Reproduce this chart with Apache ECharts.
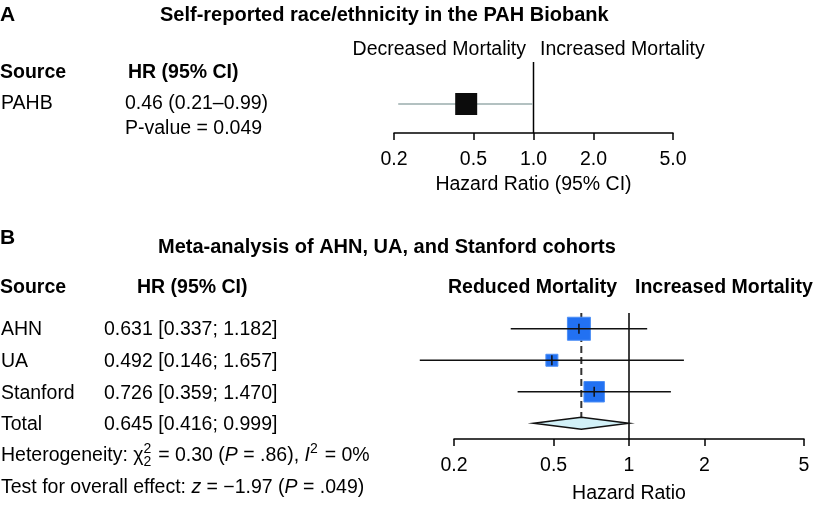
<!DOCTYPE html>
<html><head><meta charset="utf-8">
<script src="https://cdn.jsdelivr.net/npm/echarts@6/dist/echarts.min.js"></script>
<style>html,body{margin:0;padding:0;background:#fff}#c{width:817px;height:505px}</style>
</head><body><div id="c"></div><script>
// ---------- data ----------
const axisTicks = [0.2, 0.5, 1, 2, 5];
const tickLabelsA = ['0.2', '0.5', '1.0', '2.0', '5.0'];
const tickLabelsB = ['0.2', '0.5', '1', '2', '5'];
const nullHR = 1;

const sourceA = ['PAHB'];
const hrA = [0.46];
const loA = [0.21];
const hiA = [0.99];
const ciTextA = ['0.46 (0.21–0.99)'];
const pValueTextA = 'P-value = 0.049';

const sourcesB = ['AHN', 'UA', 'Stanford'];
const hrB = [0.631, 0.492, 0.726];
const loB = [0.337, 0.146, 0.359];
const hiB = [1.182, 1.657, 1.470];
const weightB = [48.6, 12.9, 38.5];
const totalLabelB = 'Total';
const totalHR = [0.645];
const totalLo = [0.416];
const totalHi = [0.999];

// ---------- helpers ----------
const FONT = '"Liberation Sans", Arial, Helvetica, sans-serif';
const FS = 19.5;
const lg = v => Math.log10(v);
const fmt3 = v => v.toFixed(3);
const cv = document.createElement('canvas').getContext('2d');
function measure(t, font) { cv.font = font; return cv.measureText(t).width; }
function fnt(size, weight, style) { return (style || 'normal') + ' ' + (weight || 'normal') + ' ' + size + 'px ' + FONT; }

function txt(text, x, y, opts) {
  opts = opts || {};
  const font = fnt(opts.size || FS, opts.weight, opts.style);
  return {
    type: 'text', x: x, y: y, silent: true,
    style: {
      text: text, font: font, fill: '#000',
      align: opts.align || 'left', verticalAlign: 'middle',
      textAlign: opts.align || 'left', textVerticalAlign: 'middle'
    }
  };
}

// lays out a line of text segments with sup/sub scripts
function richLine(segs, x0, y) {
  const out = [];
  let x = x0;
  segs.forEach(s => {
    if (s.sup || s.sub) {
      let adv = 0;
      if (s.sup) { out.push(txt(s.sup, x, y - 7, { size: 14 })); adv = Math.max(adv, measure(s.sup, fnt(14))); }
      if (s.sub) { out.push(txt(s.sub, x, y + 6, { size: 14 })); adv = Math.max(adv, measure(s.sub, fnt(14))); }
      x += adv + 1.5;
    } else {
      out.push(txt(s.t, x, y, { style: s.it ? 'italic' : 'normal' }));
      x += measure(s.t, fnt(FS, 'normal', s.it ? 'italic' : 'normal'));
    }
  });
  return out;
}

function tickFormatter(labels) {
  return function (v) {
    const i = axisTicks.findIndex(t => Math.abs(lg(t) - v) < 1e-6);
    return i >= 0 ? labels[i] : '';
  };
}

function xAxisDef(gridIndex, labels, name, gap, margin) {
  return {
    gridIndex: gridIndex, type: 'value', min: lg(axisTicks[0]), max: lg(axisTicks[axisTicks.length - 1]),
    axisLine: { show: true, onZero: false, lineStyle: { color: '#000', width: 1.5 } },
    axisTick: { show: true, customValues: axisTicks.map(lg), length: 7, lineStyle: { color: '#000', width: 1.5 } },
    axisLabel: { customValues: axisTicks.map(lg), formatter: tickFormatter(labels), color: '#000', fontSize: FS, fontFamily: FONT, margin: margin },
    splitLine: { show: false },
    name: name, nameLocation: 'middle', nameGap: gap,
    nameTextStyle: { color: '#000', fontSize: FS, fontFamily: FONT }
  };
}

// ---------- chart ----------
const chart = echarts.init(document.getElementById('c'), null, { renderer: 'canvas' });

const dataA = hrA.map((h, i) => [lg(h), i, lg(loA[i]), lg(hiA[i])]);
const dataB = hrB.map((h, i) => [lg(h), i, lg(loB[i]), lg(hiB[i]), weightB[i]]);
const dataTotal = totalHR.map((h, i) => [lg(h), sourcesB.length + i, lg(totalLo[i]), lg(totalHi[i])]);

const graphics = [];
// Panel A texts
graphics.push(txt('A', 0, 15, { weight: 'bold', size: 21 }));
graphics.push(txt('Self-reported race/ethnicity in the PAH Biobank', 160, 15, { weight: 'bold', size: 20 }));
graphics.push(txt('Source', 0, 73, { weight: 'bold' }));
graphics.push(txt('HR (95% CI)', 128, 73, { weight: 'bold' }));
sourceA.forEach((s, i) => {
  graphics.push(txt(s, 1, 104 + i * 25));
  graphics.push(txt(ciTextA[i], 125, 104 + i * 25));
});
graphics.push(txt(pValueTextA, 125, 129));
graphics.push(txt('Decreased Mortality', 526, 50, { align: 'right' }));
graphics.push(txt('Increased Mortality', 540, 50));

// Panel B texts
graphics.push(txt('B', 0, 238, { weight: 'bold', size: 21 }));
graphics.push(txt('Meta-analysis of AHN, UA, and Stanford cohorts', 158, 247, { weight: 'bold', size: 20 }));
graphics.push(txt('Source', 0, 288, { weight: 'bold' }));
graphics.push(txt('HR (95% CI)', 137, 288, { weight: 'bold' }));
sourcesB.forEach((s, i) => {
  const y = 330 + i * 31.7;
  graphics.push(txt(s, 1, y));
  graphics.push(txt(fmt3(hrB[i]) + ' [' + fmt3(loB[i]) + '; ' + fmt3(hiB[i]) + ']', 104, y));
});
graphics.push(txt(totalLabelB, 1, 425));
graphics.push(txt(fmt3(totalHR[0]) + ' [' + fmt3(totalLo[0]) + '; ' + fmt3(totalHi[0]) + ']', 104, 425));
richLine([
  { t: 'Heterogeneity: ' }, { t: 'χ' }, { sup: '2', sub: '2' }, { t: ' = 0.30 (' }, { t: 'P', it: true },
  { t: ' = .86), ' }, { t: 'I', it: true }, { sup: '2' }, { t: ' = 0%' }
], 1, 456).forEach(g => graphics.push(g));
richLine([
  { t: 'Test for overall effect: ' }, { t: 'z', it: true }, { t: ' = −1.97 (' }, { t: 'P', it: true }, { t: ' = .049)' }
], 1, 488).forEach(g => graphics.push(g));
graphics.push(txt('Reduced Mortality', 617, 288, { weight: 'bold' , align: 'right'}));
graphics.push(txt('Increased Mortality', 635, 288, { weight: 'bold' }));

const option = {
  animation: false,
  backgroundColor: '#fff',
  grid: [
    { left: 394, width: 279, top: 62, height: 71 },
    { left: 454, width: 350, top: 313, height: 128 }
  ],
  xAxis: [
    xAxisDef(0, tickLabelsA, 'Hazard Ratio (95% CI)', 42, 17),
    xAxisDef(1, tickLabelsB, 'Hazard Ratio', 45, 17)
  ],
  yAxis: [
    { gridIndex: 0, type: 'value', show: false, inverse: true, min: -1.45, max: 1 },
    { gridIndex: 1, type: 'value', show: false, inverse: true, min: -0.5, max: 3.5 }
  ],
  series: [
    { // Panel A null line
      type: 'custom', xAxisIndex: 0, yAxisIndex: 0, silent: true, z: 1,
      data: [[lg(nullHR), 0]],
      renderItem: (params, api) => {
        const p = api.coord([api.value(0), api.value(1)]);
        const cs = params.coordSys;
        return { type: 'line', shape: { x1: p[0], y1: cs.y, x2: p[0], y2: cs.y + cs.height }, style: { stroke: '#000', lineWidth: 1.5 } };
      }
    },
    { // Panel A estimate
      type: 'custom', xAxisIndex: 0, yAxisIndex: 0, silent: true, z: 2, clip: false,
      data: dataA,
      renderItem: (params, api) => {
        const c = api.coord([api.value(0), api.value(1)]);
        const l = api.coord([api.value(2), api.value(1)]);
        const h = api.coord([api.value(3), api.value(1)]);
        const s = 22;
        return { type: 'group', children: [
          { type: 'line', shape: { x1: l[0], y1: l[1], x2: h[0], y2: h[1] }, style: { stroke: '#9aacac', lineWidth: 1.5 } },
          { type: 'rect', shape: { x: c[0] - s / 2, y: c[1] - s / 2, width: s, height: s }, style: { fill: '#0c0c0c' } }
        ] };
      }
    },
    { // Panel B pooled dashed line
      type: 'custom', xAxisIndex: 1, yAxisIndex: 1, silent: true, z: 1,
      data: dataTotal,
      renderItem: (params, api) => {
        const c = api.coord([api.value(0), api.value(1)]);
        const cs = params.coordSys;
        return { type: 'line', shape: { x1: c[0], y1: cs.y, x2: c[0], y2: c[1] - 6 }, style: { stroke: '#333', lineWidth: 2, lineDash: [7, 4] } };
      }
    },
    { // Panel B null line
      type: 'custom', xAxisIndex: 1, yAxisIndex: 1, silent: true, z: 1,
      data: [[lg(nullHR), 0]],
      renderItem: (params, api) => {
        const p = api.coord([api.value(0), api.value(1)]);
        const cs = params.coordSys;
        return { type: 'line', shape: { x1: p[0], y1: cs.y, x2: p[0], y2: cs.y + cs.height }, style: { stroke: '#000', lineWidth: 1.5 } };
      }
    },
    { // Panel B studies
      type: 'custom', xAxisIndex: 1, yAxisIndex: 1, silent: true, z: 2, clip: false,
      data: dataB,
      renderItem: (params, api) => {
        const c = api.coord([api.value(0), api.value(1)]);
        const l = api.coord([api.value(2), api.value(1)]);
        const h = api.coord([api.value(3), api.value(1)]);
        const s = Math.max(12, 3.3 * Math.sqrt(api.value(4)));
        return { type: 'group', children: [
          { type: 'rect', shape: { x: c[0] - s / 2, y: c[1] - s / 2, width: s, height: s }, style: { fill: '#2271f2', stroke: '#4d8ff5', lineWidth: 1 } },
          { type: 'line', shape: { x1: l[0], y1: l[1], x2: h[0], y2: h[1] }, style: { stroke: '#111', lineWidth: 1.5 } },
          { type: 'line', shape: { x1: c[0], y1: c[1] - 5, x2: c[0], y2: c[1] + 5 }, style: { stroke: '#111', lineWidth: 1.5 } }
        ] };
      }
    },
    { // Panel B pooled diamond
      type: 'custom', xAxisIndex: 1, yAxisIndex: 1, silent: true, z: 3, clip: false,
      data: dataTotal,
      renderItem: (params, api) => {
        const c = api.coord([api.value(0), api.value(1)]);
        const l = api.coord([api.value(2), api.value(1)]);
        const h = api.coord([api.value(3), api.value(1)]);
        return { type: 'polygon', shape: { points: [[l[0], c[1]], [c[0], c[1] - 6], [h[0], c[1]], [c[0], c[1] + 6]] },
          style: { fill: '#d2f1f8', stroke: '#111', lineWidth: 1.5 } };
      }
    }
  ],
  graphic: graphics
};
chart.setOption(option);
</script></body></html>
